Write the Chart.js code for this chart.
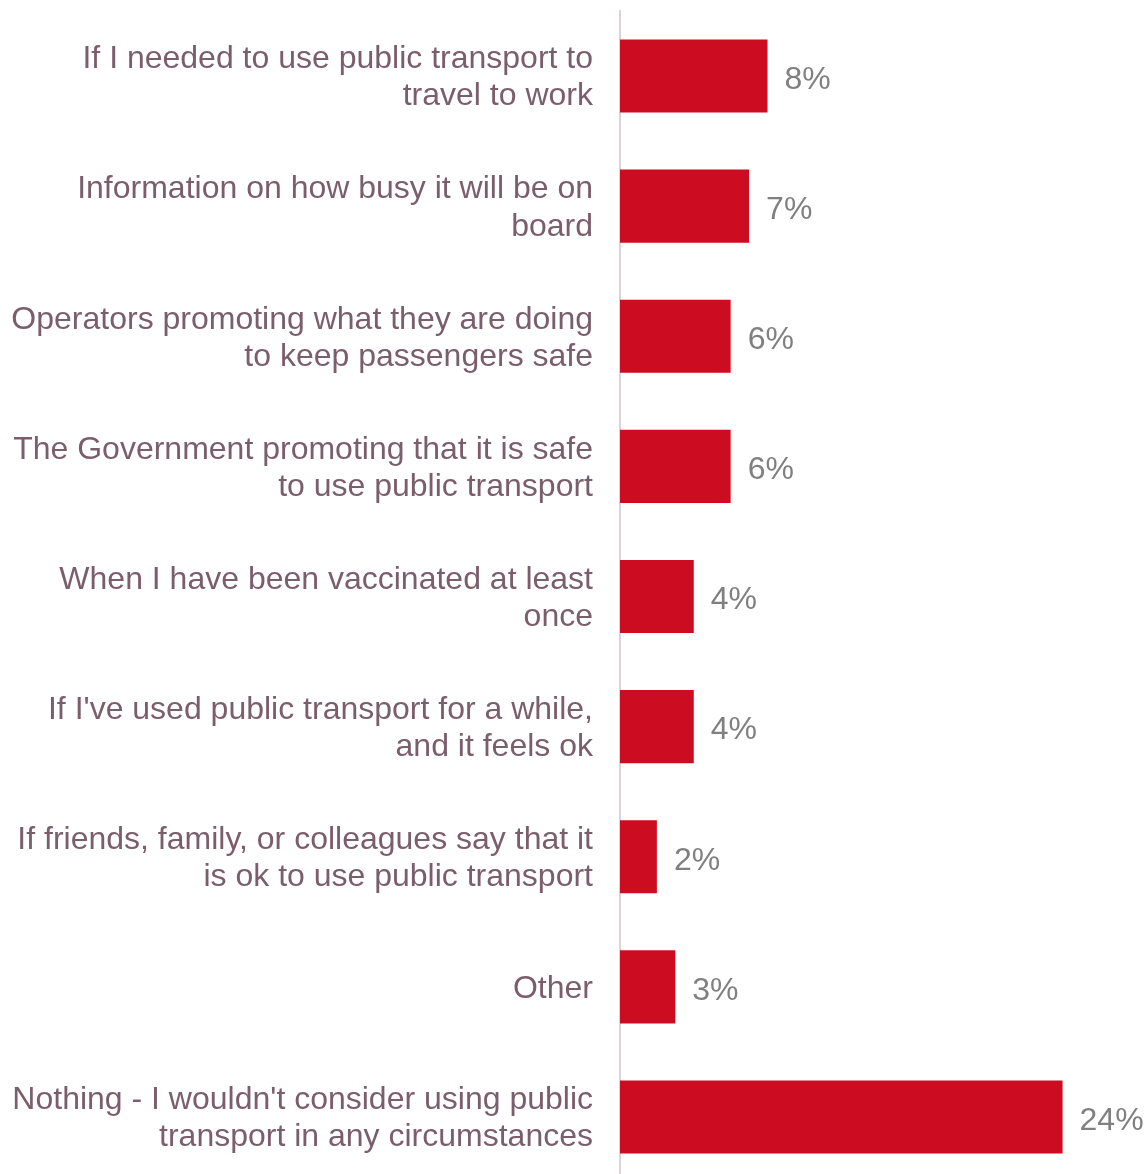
<!DOCTYPE html>
<html>
<head>
<meta charset="utf-8">
<script src="https://cdn.jsdelivr.net/npm/chart.js@4/dist/chart.umd.min.js"></script>
<style>
html,body{margin:0;padding:0;background:#fff;overflow:hidden;}
#wrap{position:relative;width:1148px;height:1182px;}
</style>
</head>
<body>
<div id="wrap"><canvas id="c"></canvas></div>
<script>
const categories = [
  ["If I needed to use public transport to", "travel to work"],
  ["Information on how busy it will be on", "board"],
  ["Operators promoting what they are doing", "to keep passengers safe"],
  ["The Government promoting that it is safe", "to use public transport"],
  ["When I have been vaccinated at least", "once"],
  ["If I've used public transport for a while,", "and it feels ok"],
  ["If friends, family, or colleagues say that it", "is ok to use public transport"],
  ["Other"],
  ["Nothing - I wouldn't consider using public", "transport in any circumstances"]
];
const values = [8, 7, 6, 6, 4, 4, 2, 3, 24];
const valueLabels = ["8%", "7%", "6%", "6%", "4%", "4%", "2%", "3%", "24%"];

const FONT = '"Liberation Sans", Arial, sans-serif';

const valueLabelPlugin = {
  id: 'valueLabels',
  afterDatasetsDraw(chart) {
    const ctx = chart.ctx;
    const meta = chart.getDatasetMeta(0);
    ctx.save();
    ctx.font = '32px ' + FONT;
    ctx.fillStyle = '#808080';
    ctx.textAlign = 'left';
    ctx.textBaseline = 'middle';
    meta.data.forEach((bar, i) => {
      ctx.fillText(valueLabels[i], bar.x + 17, bar.y + 4);
    });
    ctx.restore();
  }
};

new Chart(document.getElementById('c'), {
  type: 'bar',
  data: {
    labels: categories,
    datasets: [{
      data: values,
      backgroundColor: '#cc0c20',
      borderWidth: 0,
      categoryPercentage: 0.562,
      barPercentage: 1.0
    }]
  },
  options: {
    indexAxis: 'y',
    responsive: true,
    maintainAspectRatio: false,
    animation: false,
    layout: { padding: { top: 11, right: 67, bottom: 0, left: 0 } },
    plugins: { legend: { display: false }, tooltip: { enabled: false } },
    scales: {
      x: {
        min: 0, max: 25,
        display: false,
        grid: { display: false }
      },
      y: {
        grid: { display: false, drawTicks: false },
        border: { display: true, color: '#ddd3d7', width: 2 },
        afterFit(scale) {
          scale.width = 620;
          scale.paddingTop = 0;
          scale.paddingBottom = 0;
        },
        ticks: {
          color: '#7b5e6c',
          padding: 27,
          labelOffset: 2,
          font: { family: FONT, size: 32, lineHeight: 1.16 },
          crossAlign: 'near'
        }
      }
    }
  },
  plugins: [valueLabelPlugin]
});
</script>
</body>
</html>
